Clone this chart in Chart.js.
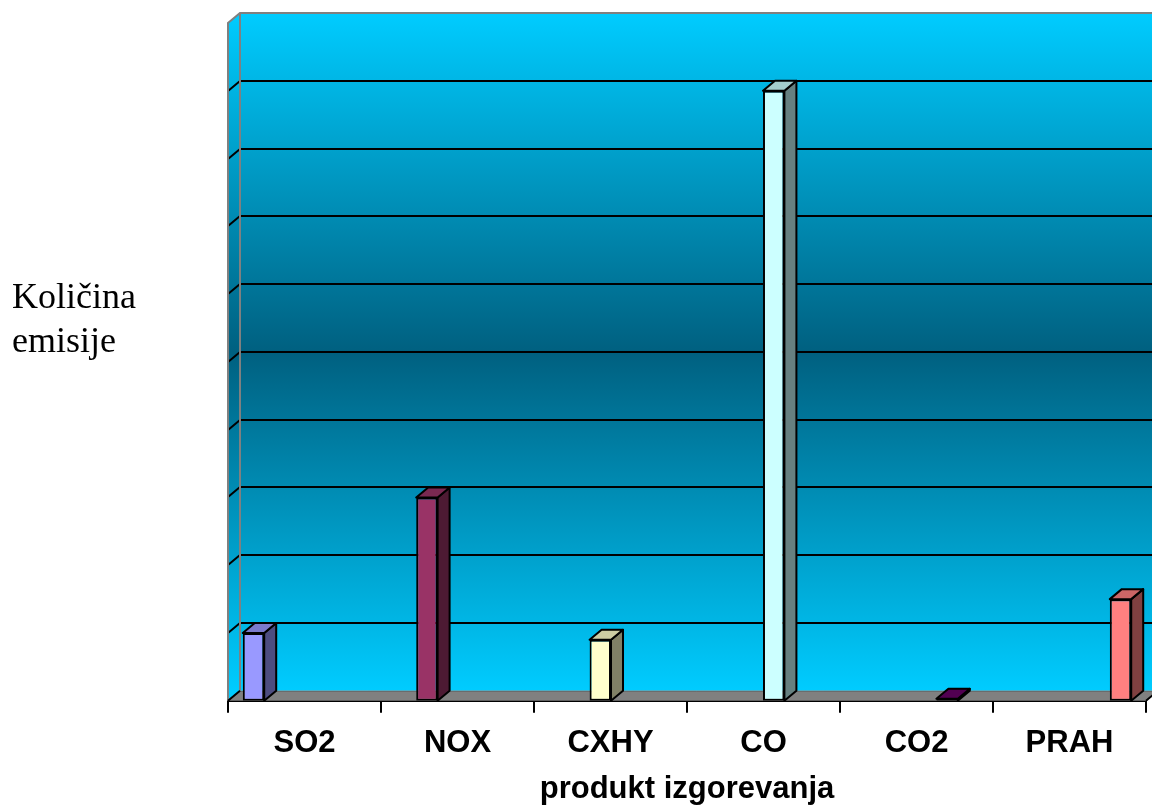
<!DOCTYPE html>
<html>
<head>
<meta charset="utf-8">
<script src="https://cdn.jsdelivr.net/npm/chart.js@4.4.0/dist/chart.umd.min.js"></script>
<style>
  html, body { margin: 0; padding: 0; background: #fff; }
  #wrap { width: 1152px; height: 810px; }
</style>
</head>
<body>
<div id="wrap"><canvas id="emisije" width="1152" height="810"></canvas></div>
<script>
// data (no value labels, one unit = one gridline)
const categories = ['SO2', 'NOX', 'CXHY', 'CO', 'CO2', 'PRAH'];
const emissions = [1, 3, 0.9, 9, 0.03, 1.5];
const yTicks = [0, 1, 2, 3, 4, 5, 6, 7, 8, 9, 10];
const yTitleLines = ['Količina', 'emisije'];
const xTitle = 'produkt izgorevanja';

// excel-ish 3d colours: front, side (darker), top
const frontColors = ['#9999FF', '#993366', '#FFFFCC', '#CCFFFF', '#660066', '#FF8080'];
const sideColors = ['#4D4D80', '#4D1A33', '#808066', '#668080', '#330033', '#804040'];
const topColors = ['#7A7ACC', '#7A2952', '#CCCCA3', '#A3CCCC', '#520052', '#CC6666'];

const DX = 12, DY = -10;

// one series per category, like the original sheet
const datasets = categories.map((cat, i) => ({
    label: cat,
    data: categories.map((_, j) => (j === i ? emissions[i] : null)),
    backgroundColor: frontColors[i],
    borderColor: '#000',
    borderWidth: 2,
    borderSkipped: false
}));

const wallPlugin = {
    id: 'wall3d',
    beforeDatasetsDraw(chart) {
        const ctx = chart.ctx;
        const { left, right, bottom } = chart.chartArea;
        const y = chart.scales.y;
        const yMax = yTicks[yTicks.length - 1];
        const wallTop = y.getPixelForValue(yMax) + DY;
        const wallBot = y.getPixelForValue(0) + DY;

        const grad = ctx.createLinearGradient(0, wallTop, 0, wallBot);
        grad.addColorStop(0, '#00CCFF');
        grad.addColorStop(0.5, '#006080');
        grad.addColorStop(1, '#00CCFF');

        ctx.save();
        // back wall
        ctx.fillStyle = grad;
        ctx.fillRect(left + DX, wallTop, right - left + 20, wallBot - wallTop);

        // left side wall
        ctx.beginPath();
        ctx.moveTo(left, bottom);
        ctx.lineTo(left + DX, wallBot);
        ctx.lineTo(left + DX, wallTop);
        ctx.lineTo(left, wallTop - DY);
        ctx.closePath();
        ctx.fill();

        // gridlines on back wall + diagonal on side wall
        ctx.strokeStyle = '#000';
        ctx.lineWidth = 2;
        yTicks.slice(1, -1).forEach(v => {
            const py = Math.round(y.getPixelForValue(v)) + DY;
            ctx.beginPath();
            ctx.moveTo(left + DX, py);
            ctx.lineTo(right + DX + 20, py);
            ctx.moveTo(left + DX, py);
            ctx.lineTo(left, py - DY);
            ctx.stroke();
        });

        // wall edges
        ctx.strokeStyle = '#808080';
        ctx.lineWidth = 2;
        ctx.beginPath();
        ctx.moveTo(left, bottom);
        ctx.lineTo(left, wallTop - DY);
        ctx.lineTo(left + DX, wallTop);
        ctx.lineTo(right + DX + 20, wallTop);
        ctx.moveTo(left + DX, wallTop);
        ctx.lineTo(left + DX, wallBot);
        ctx.stroke();

        // floor
        ctx.fillStyle = '#808080';
        ctx.beginPath();
        ctx.moveTo(left, bottom);
        ctx.lineTo(left + DX, wallBot);
        ctx.lineTo(right + DX, wallBot);
        ctx.lineTo(right, bottom);
        ctx.closePath();
        ctx.fill();
        ctx.strokeStyle = '#666';
        ctx.lineWidth = 1;
        ctx.beginPath();
        ctx.moveTo(left + DX, wallBot + 0.5);
        ctx.lineTo(right + DX + 20, wallBot + 0.5);
        ctx.stroke();
        ctx.strokeStyle = '#000';
        ctx.lineWidth = 2;
        ctx.beginPath();
        ctx.moveTo(left, bottom);
        ctx.lineTo(left + DX, wallBot);
        ctx.moveTo(right, bottom);
        ctx.lineTo(right + DX, wallBot);
        ctx.stroke();
        ctx.restore();
    },
    afterDatasetsDraw(chart) {
        const ctx = chart.ctx;
        ctx.save();
        ctx.strokeStyle = '#000';
        ctx.lineWidth = 2;
        ctx.lineJoin = 'round';
        chart.data.datasets.forEach((ds, i) => {
            const meta = chart.getDatasetMeta(i);
            meta.data.forEach((bar, j) => {
                if (ds.data[j] == null) return;
                const { x, y, base, width } = bar.getProps(['x', 'y', 'base', 'width'], true);
                const l = x - width / 2, r = x + width / 2;
                // side
                ctx.fillStyle = sideColors[i];
                ctx.beginPath();
                ctx.moveTo(r, y);
                ctx.lineTo(r + DX, y + DY);
                ctx.lineTo(r + DX, base + DY);
                ctx.lineTo(r, base);
                ctx.closePath();
                ctx.fill();
                ctx.stroke();
                // top
                ctx.fillStyle = topColors[i];
                ctx.beginPath();
                ctx.moveTo(l, y);
                ctx.lineTo(l + DX, y + DY);
                ctx.lineTo(r + DX, y + DY);
                ctx.lineTo(r, y);
                ctx.closePath();
                ctx.fill();
                ctx.stroke();
            });
        });
        ctx.restore();
    },
    afterDraw(chart) {
        const ctx = chart.ctx;
        ctx.save();
        ctx.fillStyle = '#000';
        ctx.font = '36px "Liberation Serif", "Times New Roman", serif';
        ctx.textBaseline = 'alphabetic';
        ctx.textAlign = 'left';
        yTitleLines.forEach((t, k) => ctx.fillText(t, 12, 308 + k * 44));
        ctx.restore();
    }
};

new Chart(document.getElementById('emisije'), {
    type: 'bar',
    data: { labels: categories, datasets },
    options: {
        responsive: false,
        animation: false,
        layout: { padding: { left: 228, right: 6, top: 23, bottom: 5 } },
        datasets: { bar: { categoryPercentage: 0.8, barPercentage: 1.05 } },
        plugins: { legend: { display: false }, tooltip: { enabled: false } },
        scales: {
            x: {
                grid: { drawOnChartArea: false, drawTicks: true, tickLength: 12, color: '#000', lineWidth: 2 },
                border: { display: true, color: '#000', width: 2 },
                ticks: { color: '#000', padding: 12, font: { family: '"Liberation Sans", Arial, sans-serif', size: 31, weight: 'bold' } },
                title: {
                    display: true, text: xTitle, color: '#000',
                    padding: { top: 0, bottom: 0 },
                    font: { family: '"Liberation Sans", Arial, sans-serif', size: 31, weight: 'bold', lineHeight: 1.0 }
                }
            },
            y: {
                display: false,
                min: yTicks[0],
                max: yTicks[yTicks.length - 1],
                ticks: { stepSize: 1 }
            }
        }
    },
    plugins: [wallPlugin]
});
</script>
</body>
</html>
